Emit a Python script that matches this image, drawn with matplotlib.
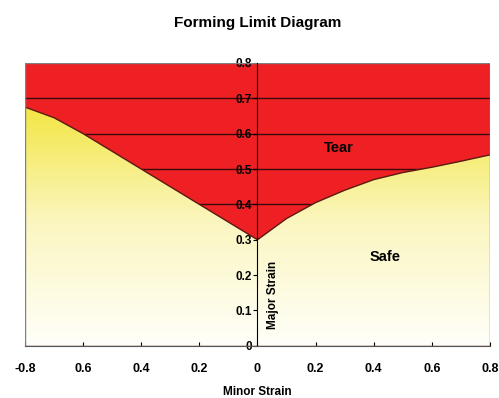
import numpy as np
import matplotlib.pyplot as plt
from matplotlib.colors import LinearSegmentedColormap
from matplotlib.patches import Polygon, Rectangle

plt.rcParams['font.family'] = ['Liberation Sans', 'DejaVu Sans']

# forming limit curve (minor strain, major strain)
minor_strain = [-0.8, -0.7, -0.6, -0.5, -0.4, -0.3, -0.2, -0.1, 0.0,
                0.1, 0.2, 0.3, 0.4, 0.5, 0.6, 0.7, 0.8]
major_strain = [0.675, 0.645, 0.6, 0.55, 0.5, 0.45, 0.4, 0.35, 0.3,
                0.36, 0.405, 0.44, 0.47, 0.49, 0.505, 0.522, 0.54]
x_ticks = [-0.8, -0.6, -0.4, -0.2, 0, 0.2, 0.4, 0.6, 0.8]
x_labels = ['-0.8', '0.6', '0.4', '0.2', '0', '0.2', '0.4', '0.6', '0.8']
y_ticks = [0, 0.1, 0.2, 0.3, 0.4, 0.5, 0.6, 0.7, 0.8]
y_labels = ['0', '0.1', '0.2', '0.3', '0.4', '0.5', '0.6', '0.7', '0.8']

fig = plt.figure(figsize=(4.99, 3.98), dpi=100)
ax = fig.add_axes([0.050, 0.131, 0.932, 0.711])
ax.set_xlim(-0.8, 0.8)
ax.set_ylim(0, 0.8)
ax.set_facecolor('#ee2024')

# grid lines sit on the red, hidden under the safe zone
for yv in y_ticks[1:-1]:
    ax.axhline(yv, color='#3a0a0a', linewidth=1.0, zorder=1)

# safe zone: vertical gradient clipped to area under the curve
cmap = LinearSegmentedColormap.from_list('safe', ['#fffffa', '#fbf6c0', '#f2e53a'])
grad = np.linspace(0, 1, 256).reshape(-1, 1)
img = ax.imshow(grad, extent=[-0.8, 0.8, 0, 0.7], origin='lower', aspect='auto',
                cmap=cmap, zorder=1.5)
poly_pts = [(minor_strain[0], 0)] + list(zip(minor_strain, major_strain)) + [(minor_strain[-1], 0)]
clip = Polygon(poly_pts, closed=True, transform=ax.transData, facecolor='none', edgecolor='none')
ax.add_patch(clip)
img.set_clip_path(clip)
ax.plot(minor_strain, major_strain, color='#5a1a10', linewidth=1.0, zorder=2)

# frame
ax.add_patch(Rectangle((0, 0), 1, 1, transform=ax.transAxes, fill=False,
                       edgecolor='#808080', linewidth=1.0, zorder=2.2))
for s in ['top', 'right']:
    ax.spines[s].set_visible(False)
ax.spines['left'].set_position(('data', 0))
ax.spines['left'].set_color('black')
ax.spines['bottom'].set_color('#555555')

ax.set_xticks(x_ticks)
ax.set_xticklabels(x_labels, fontsize=9, fontweight='bold')
ax.set_yticks(y_ticks)
ax.set_yticklabels(y_labels, fontsize=8.5, fontweight='bold')
ax.tick_params(axis='x', direction='in', length=3, pad=12)
ax.tick_params(axis='y', direction='out', length=3, pad=1)

ax.text(0.052, 0.145, 'Major Strain', rotation=90, fontsize=8.5, fontweight='bold',
        ha='center', va='center')
ax.set_xlabel('Minor Strain', fontsize=8.5, fontweight='bold', labelpad=8)
ax.text(0.28, 0.56, 'Tear', fontsize=10.5, fontweight='bold', ha='center', va='center')
ax.text(0.44, 0.25, 'Safe', fontsize=10.5, fontweight='bold', ha='center', va='center')

fig.suptitle('Forming Limit Diagram', fontsize=11, fontweight='bold', x=0.517, y=0.96)

fig.savefig('out.png', dpi=100)
